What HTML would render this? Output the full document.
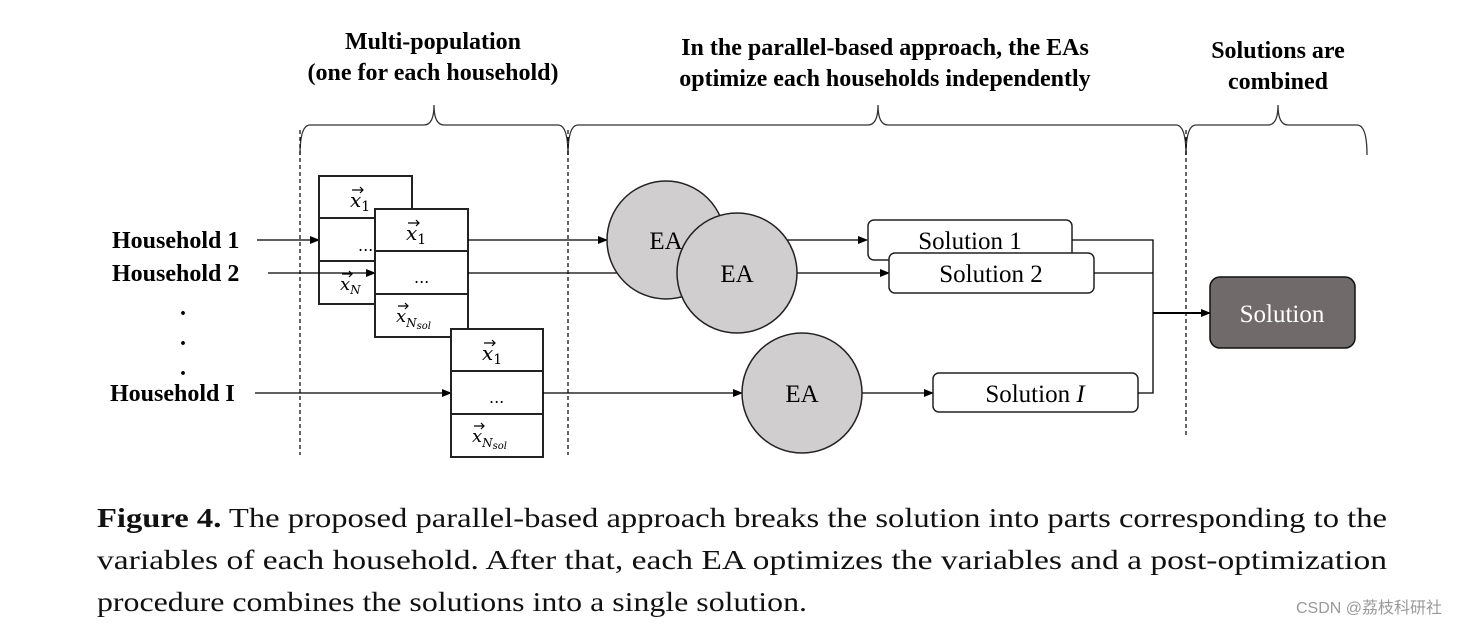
<!DOCTYPE html>
<html><head><meta charset="utf-8"><style>
html,body{margin:0;padding:0;background:#fff;width:1483px;height:626px;overflow:hidden}
svg{display:block}
</style></head><body>
<svg width="1483" height="626" viewBox="0 0 1483 626" xmlns="http://www.w3.org/2000/svg" font-family="Liberation Serif, serif">
<defs><marker id="a" markerWidth="10" markerHeight="8" refX="9" refY="4" orient="auto" markerUnits="userSpaceOnUse"><path d="M0,0 L10,4 L0,8z" fill="#000"/></marker></defs>
<g font-weight="bold" font-size="24" text-anchor="middle">
<text x="433" y="49">Multi-population</text>
<text x="433" y="80">(one for each household)</text>
<text x="885" y="55">In the parallel-based approach, the EAs</text>
<text x="885" y="86">optimize each households independently</text>
<text x="1278" y="58">Solutions are</text>
<text x="1278" y="89">combined</text>
</g>
<g fill="none" stroke="#333" stroke-width="1.3">
<path d="M300,155 Q300,125 310,125 L424,125 Q434,125 434,105 Q434,125 444,125 L558,125 Q568,125 568,155"/>
<path d="M568,155 Q568,125 578,125 L868,125 Q878,125 878,105 Q878,125 888,125 L1176,125 Q1186,125 1186,155"/>
<path d="M1186,155 Q1186,125 1196,125 L1268,125 Q1278,125 1278,105 Q1278,125 1288,125 L1357,125 Q1367,125 1367,155"/>
</g>
<g stroke="#000" stroke-width="1.2" stroke-dasharray="4,3">
<line x1="300" y1="130" x2="300" y2="455"/><line x1="568" y1="130" x2="568" y2="455"/><line x1="1186" y1="130" x2="1186" y2="435"/>
</g>
<g font-weight="bold" font-size="24">
<text x="112" y="248">Household 1</text>
<text x="112" y="281">Household 2</text>
<text x="110" y="401">Household I</text>
<text x="180" y="315">.</text><text x="180" y="345">.</text><text x="180" y="375">.</text>
</g>
<line x1="257" y1="240" x2="319" y2="240" stroke="#000" stroke-width="1.3" marker-end="url(#a)"/>
<line x1="255" y1="393" x2="451" y2="393" stroke="#000" stroke-width="1.3" marker-end="url(#a)"/>
<!-- box A -->
<g stroke="#222" stroke-width="2" fill="#fff">
<rect x="319" y="176" width="93" height="128"/><line x1="319" y1="218" x2="412" y2="218"/><line x1="319" y1="261" x2="412" y2="261"/>
</g>
<g font-family="DejaVu Serif, serif" fill="#000">
<text x="350" y="207" font-size="20" font-style="italic">x<tspan font-size="14" font-style="normal" dy="4">1</tspan></text>
<path d="M352,190 L363,190 M360,187 L363,190 L360,193" stroke="#000" stroke-width="1.2" fill="none"/>
<text x="358" y="251" font-size="16">...</text>
<text x="340" y="290" font-size="18" font-style="italic">x<tspan font-size="12" dy="4">N</tspan></text>
<path d="M342,274 L352,274 M349,271 L352,274 L349,277" stroke="#000" stroke-width="1.2" fill="none"/>
</g>
<line x1="268" y1="273" x2="375" y2="273" stroke="#000" stroke-width="1.3" marker-end="url(#a)"/>
<!-- box B -->
<g stroke="#222" stroke-width="2" fill="#fff">
<rect x="375" y="209" width="93" height="128"/><line x1="375" y1="251" x2="468" y2="251"/><line x1="375" y1="294" x2="468" y2="294"/>
<rect x="451" y="329" width="92" height="128"/><line x1="451" y1="371" x2="543" y2="371"/><line x1="451" y1="414" x2="543" y2="414"/>
</g>
<g font-family="DejaVu Serif, serif" fill="#000">
<text x="406" y="240" font-size="20" font-style="italic">x<tspan font-size="14" font-style="normal" dy="4">1</tspan></text>
<path d="M408,223 L419,223 M416,220 L419,223 L416,226" stroke="#000" stroke-width="1.2" fill="none"/>
<text x="414" y="283" font-size="16">...</text>
<text x="396" y="322" font-size="18" font-style="italic">x<tspan font-size="12" dy="5">N<tspan font-size="10" dy="2">sol</tspan></tspan></text>
<path d="M398,306 L408,306 M405,303 L408,306 L405,309" stroke="#000" stroke-width="1.2" fill="none"/>
<text x="482" y="360" font-size="20" font-style="italic">x<tspan font-size="14" font-style="normal" dy="4">1</tspan></text>
<path d="M484,343 L495,343 M492,340 L495,343 L492,346" stroke="#000" stroke-width="1.2" fill="none"/>
<text x="489" y="403" font-size="16">...</text>
<text x="472" y="442" font-size="18" font-style="italic">x<tspan font-size="12" dy="5">N<tspan font-size="10" dy="2">sol</tspan></tspan></text>
<path d="M474,426 L484,426 M481,423 L484,426 L481,429" stroke="#000" stroke-width="1.2" fill="none"/>
</g>
<g stroke="#000" stroke-width="1.3" fill="none">
<line x1="468" y1="240" x2="607" y2="240" marker-end="url(#a)"/>
<line x1="468" y1="273" x2="677" y2="273" marker-end="url(#a)"/>
<line x1="543" y1="393" x2="742" y2="393" marker-end="url(#a)"/>
<line x1="725" y1="240" x2="867" y2="240" marker-end="url(#a)"/>
<line x1="797" y1="273" x2="889" y2="273" marker-end="url(#a)"/>
<line x1="862" y1="393" x2="933" y2="393" marker-end="url(#a)"/>
</g>
<g stroke="#222" stroke-width="1.5" fill="#d0cece" font-size="25">
<circle cx="666" cy="240" r="59"/><text x="666" y="249" text-anchor="middle" fill="#000" stroke="none">EA</text>
<circle cx="737" cy="273" r="60"/><text x="737" y="282" text-anchor="middle" fill="#000" stroke="none">EA</text>
<circle cx="802" cy="393" r="60"/><text x="802" y="402" text-anchor="middle" fill="#000" stroke="none">EA</text>
</g>
<g stroke="#222" stroke-width="1.5" fill="#fff" font-size="25">
<rect x="868" y="220" width="204" height="40" rx="6"/><text x="970" y="249" text-anchor="middle" fill="#000" stroke="none">Solution 1</text>
<rect x="889" y="253" width="205" height="40" rx="6"/><text x="991" y="282" text-anchor="middle" fill="#000" stroke="none">Solution 2</text>
<rect x="933" y="373" width="205" height="39" rx="6"/><text x="1035" y="402" text-anchor="middle" fill="#000" stroke="none">Solution <tspan font-style="italic">I</tspan></text>
</g>
<g stroke="#000" stroke-width="1.3" fill="none">
<polyline points="1072,240 1153,240 1153,393 1138,393"/>
<line x1="1094" y1="273" x2="1153" y2="273"/>
<line x1="1153" y1="313" x2="1210" y2="313" stroke-width="2" marker-end="url(#a)"/>
</g>
<rect x="1210" y="277" width="145" height="71" rx="10" fill="#716a6a" stroke="#111" stroke-width="1.5"/>
<text x="1282" y="322" text-anchor="middle" font-size="25" fill="#fff">Solution</text>
<g font-size="27" fill="#111" font-family="Liberation Serif, serif">
<text x="97" y="527" textLength="1290" lengthAdjust="spacingAndGlyphs"><tspan font-weight="bold">Figure 4.</tspan> The proposed parallel-based approach breaks the solution into parts corresponding to the</text>
<text x="97" y="569" textLength="1290" lengthAdjust="spacingAndGlyphs">variables of each household.  After that, each EA optimizes the variables and a post-optimization</text>
<text x="97" y="611" textLength="710" lengthAdjust="spacingAndGlyphs">procedure combines the solutions into a single solution.</text>
</g>
<text x="1296" y="613" font-size="16" fill="#999" font-family="Liberation Sans, Noto Sans CJK SC, sans-serif">CSDN @荔枝科研社</text>
</svg>
</body></html>
